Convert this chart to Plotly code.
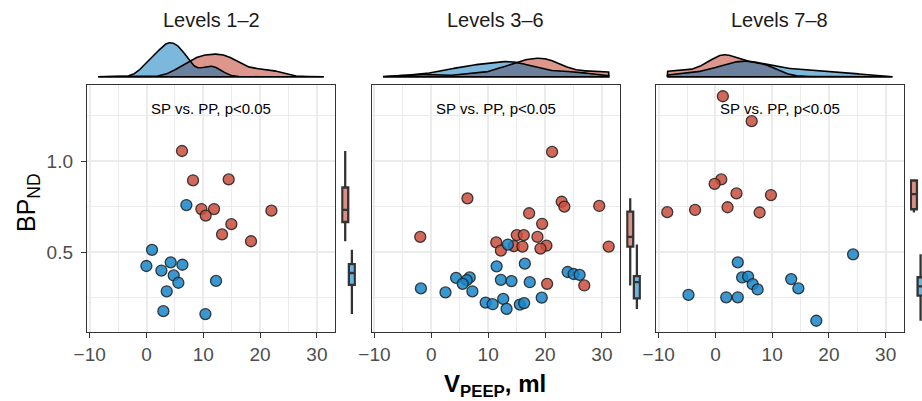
import numpy as np
import plotly.graph_objects as go

W, H = 922, 401

panel_titles = ["Levels 1–2", "Levels 3–6", "Levels 7–8"]
annot_text = "SP vs. PP, p<0.05"

# ---- data (V_PEEP in ml, BP_ND) ----
# Levels 1-2
p1_sp_x = [6.25, 8.19, 14.47, 9.66, 11.89, 10.42, 21.99, 14.94, 13.3, 18.4]
p1_sp_y = [1.056, 0.895, 0.90, 0.737, 0.737, 0.701, 0.728, 0.654, 0.598, 0.56]
p1_pp_x = [7.02, 0.97, -0.02, 4.26, 6.32, 2.62, 4.79, 5.61, 12.24, 3.56, 2.97, 10.37]
p1_pp_y = [0.759, 0.513, 0.424, 0.444, 0.431, 0.399, 0.372, 0.332, 0.342, 0.285, 0.176, 0.16]
# Levels 3-6
p2_sp_x = [21.24, 6.36, 22.93, 23.4, 29.53, 17.21, 19.49, -1.94, 15.04, 16.27,
           18.67, 11.43, 14.52, 16.03, 20.25, 19.2, 12.24, 31.2, 20.37, 26.9]
p2_sp_y = [1.051, 0.796, 0.777, 0.75, 0.754, 0.714, 0.656, 0.584, 0.594, 0.594,
           0.584, 0.554, 0.533, 0.531, 0.536, 0.52, 0.509, 0.531, 0.326, 0.317]
p2_pp_x = [13.47, 11.49, 16.45, 4.36, 6.76, 6.23, 5.53, 7.23, -1.82, 2.5, 12.24, 14.11,
           17.32, 23.98, 25.03, 26.08, 19.42, 9.56, 10.79, 12.65, 13.24, 15.57, 16.33]
p2_pp_y = [0.542, 0.422, 0.437, 0.359, 0.361, 0.346, 0.326, 0.285, 0.301, 0.279, 0.348, 0.341,
           0.335, 0.391, 0.380, 0.375, 0.25, 0.223, 0.214, 0.243, 0.188, 0.212, 0.22]
# Levels 7-8
p3_sp_x = [1.31, 6.39, 1.03, -0.14, 3.71, 9.79, 2.14, -3.59, -8.49, 7.79]
p3_sp_y = [1.357, 1.22, 0.90, 0.875, 0.823, 0.814, 0.747, 0.732, 0.72, 0.718]
p3_pp_x = [24.26, 3.94, 4.71, 5.76, 6.57, 7.44, 13.35, 14.62, -4.75, 1.91, 3.94, 17.78]
p3_pp_y = [0.488, 0.444, 0.361, 0.366, 0.324, 0.295, 0.352, 0.301, 0.265, 0.252, 0.252, 0.123]

sp_x = [p1_sp_x, p2_sp_x, p3_sp_x]
sp_y = [p1_sp_y, p2_sp_y, p3_sp_y]
pp_x = [p1_pp_x, p2_pp_x, p3_pp_x]
pp_y = [p1_pp_y, p2_pp_y, p3_pp_y]

# ---- styles ----
RED_PT = "rgba(202,78,61,0.85)"
BLUE_PT = "rgba(23,133,199,0.85)"
RED_DEN = "#DC968C"
BLUE_DEN = "#7CB8DC"
OVER_DEN = "#6B809D"
RED_BOX = "#DC9085"
BLUE_BOX = "#6BB3E0"
DARK = "#333333"
GRID = "#EBEBEB"
FONT = "Liberation Sans, Arial, sans-serif"

# ---- scales (ggplot-like 5% expansion) ----
all_x = np.concatenate([np.array(a) for a in sp_x + pp_x])
all_y = np.concatenate([np.array(a) for a in sp_y + pp_y])
xmin, xmax = all_x.min(), all_x.max()
ymin, ymax = all_y.min(), all_y.max()
xr = [xmin - 0.05 * (xmax - xmin), xmax + 0.05 * (xmax - xmin)]
yr = [ymin - 0.05 * (ymax - ymin), ymax + 0.05 * (ymax - ymin)]


def kde(vals, grid):
    v = np.asarray(vals, float)
    n = len(v)
    sd = v.std(ddof=1)
    iqr = np.percentile(v, 75) - np.percentile(v, 25)
    bw = 0.9 * min(sd, iqr / 1.34) * n ** (-0.2)
    z = (grid[:, None] - v[None, :]) / bw
    return np.exp(-0.5 * z ** 2).sum(axis=1) / (n * bw * np.sqrt(2 * np.pi))


def box_stats(vals):
    v = np.sort(np.asarray(vals, float))
    q1, med, q3 = np.percentile(v, [25, 50, 75])
    iqr = q3 - q1
    lo = v[v >= q1 - 1.5 * iqr].min()
    hi = v[v <= q3 + 1.5 * iqr].max()
    return q1, med, q3, lo, hi


grid = np.linspace(xmin, xmax, 512)
dens = [(kde(sp_x[i], grid), kde(pp_x[i], grid)) for i in range(3)]
dmax = max(max(a.max(), b.max()) for a, b in dens)

# ---- geometry in pixels ----
main_x_px = [(87, 335), (371.7, 620), (656, 903.7)]
main_y_px = (85, 332)
den_y_px = (41, 78.4)
side_gap, side_w = 6.2, 14.7
unit_px = side_w / 2.2


def px_x(a):
    return a / W


def px_y(a):
    return 1 - a / H


fig = go.Figure()
layout = dict(
    width=W, height=H, margin=dict(l=0, r=0, t=0, b=0, autoexpand=False),
    paper_bgcolor="white", plot_bgcolor="white", showlegend=False,
    boxmode="overlay", font=dict(family=FONT, color="black"),
)

annotations = []
for i in range(3):
    mx, my = 3 * i + 1, 3 * i + 1   # main
    dx_, dy_ = 3 * i + 2, 3 * i + 2  # density
    sx_, sy_ = 3 * i + 3, 3 * i + 3  # side boxes
    xl, xrp = main_x_px[i]
    dom_x = [px_x(xl), px_x(xrp)]
    dom_y = [px_y(main_y_px[1]), px_y(main_y_px[0])]

    def an(n):
        return "" if n == 1 else str(n)

    # main axes
    layout["xaxis" + an(mx)] = dict(
        domain=dom_x, anchor="y" + an(my), range=xr, tick0=0, dtick=10,
        showgrid=True, gridcolor=GRID, gridwidth=1.5,
        minor=dict(tick0=0, dtick=5, showgrid=True, gridcolor=GRID, gridwidth=0.8),
        showline=True, linecolor=DARK, linewidth=1.4, mirror=True,
        ticks="outside", ticklen=5, tickwidth=1.4, tickcolor=DARK,
        tickfont=dict(size=19, color="#4D4D4D", family=FONT), zeroline=False,
        automargin=False,
    )
    layout["yaxis" + an(my)] = dict(
        domain=dom_y, anchor="x" + an(mx), range=yr, tick0=0, dtick=0.5,
        tickformat=".1f",
        showgrid=True, gridcolor=GRID, gridwidth=1.5,
        minor=dict(tick0=0, dtick=0.25, showgrid=True, gridcolor=GRID, gridwidth=0.8),
        showline=True, linecolor=DARK, linewidth=1.4, mirror=True,
        ticks="outside" if i == 0 else "", ticklen=5, tickwidth=1.4, tickcolor=DARK,
        showticklabels=(i == 0), ticklabelstandoff=4,
        tickfont=dict(size=19, color="#4D4D4D", family=FONT), zeroline=False,
        automargin=False,
    )
    # density axes
    layout["xaxis" + an(dx_)] = dict(
        domain=dom_x, anchor="y" + an(dy_), range=xr, visible=False, automargin=False,
    )
    layout["yaxis" + an(dy_)] = dict(
        domain=[px_y(den_y_px[1]), px_y(den_y_px[0])], anchor="x" + an(dx_),
        range=[-0.05 * dmax, 1.05 * dmax], visible=False, automargin=False,
    )
    # side box axes
    s0 = xrp + side_gap
    s1 = s0 + side_w
    if s1 > W:
        srange = [0.4, 0.4 + (W - s0) / unit_px]
        s1 = W
    else:
        srange = [0.4, 2.6]
    layout["xaxis" + an(sx_)] = dict(
        domain=[px_x(s0), px_x(s1)], anchor="y" + an(sy_), range=srange, visible=False,
        automargin=False,
    )
    layout["yaxis" + an(sy_)] = dict(
        domain=dom_y, anchor="x" + an(sx_), range=yr, visible=False, automargin=False,
    )

    # density traces
    dr, db = dens[i]
    over = np.minimum(dr, db)
    for yy, col in [(dr, RED_DEN), (db, BLUE_DEN), (over, OVER_DEN)]:
        fig.add_trace(go.Scatter(
            x=grid, y=yy, mode="lines", fill="tozeroy", fillcolor=col,
            line=dict(width=0), xaxis="x" + an(dx_), yaxis="y" + an(dy_),
            hoverinfo="skip",
        ))
    for yy in (dr, db):
        fig.add_trace(go.Scatter(
            x=np.concatenate([[grid[0]], grid, [grid[-1], grid[0]]]),
            y=np.concatenate([[0], yy, [0, 0]]),
            mode="lines", line=dict(color="black", width=1.6),
            xaxis="x" + an(dx_), yaxis="y" + an(dy_), hoverinfo="skip",
        ))

    # scatter points
    for xs, ys, col, nm in [(sp_x[i], sp_y[i], RED_PT, "SP"), (pp_x[i], pp_y[i], BLUE_PT, "PP")]:
        fig.add_trace(go.Scatter(
            x=xs, y=ys, mode="markers", name=nm,
            marker=dict(size=11, color=col, line=dict(color="rgba(30,30,30,0.85)", width=1.3)),
            xaxis="x" + an(mx), yaxis="y" + an(my),
        ))

    # side boxplots
    for pos, ys, col in [(1, sp_y[i], RED_BOX), (2, pp_y[i], BLUE_BOX)]:
        q1, med, q3, lo, hi = box_stats(ys)
        fig.add_trace(go.Box(
            x=[pos], q1=[q1], median=[med], q3=[q3], lowerfence=[lo], upperfence=[hi],
            width=0.9, fillcolor=col, line=dict(color=DARK, width=2.3),
            whiskerwidth=0, boxpoints=False,
            xaxis="x" + an(sx_), yaxis="y" + an(sy_),
        ))

    # annotations
    annotations.append(dict(
        text=annot_text, xref="x" + an(mx) + " domain", yref="y" + an(my) + " domain",
        x=0.5, y=0.906, xanchor="center", yanchor="middle", showarrow=False,
        font=dict(size=15, color="black", family=FONT),
    ))
    annotations.append(dict(
        text=panel_titles[i], xref="paper", yref="paper",
        x=px_x((xl + xrp) / 2), y=px_y(20), xanchor="center", yanchor="middle",
        showarrow=False, font=dict(size=20, color="#1A1A1A", family=FONT),
    ))

annotations.append(dict(
    text="BP<sub>ND</sub>", xref="paper", yref="paper", x=px_x(28), y=px_y(203),
    xanchor="center", yanchor="middle", textangle=-90, showarrow=False,
    font=dict(size=25, color="black", family=FONT),
))
annotations.append(dict(
    text="<b>V<sub>PEEP</sub>, ml</b>", xref="paper", yref="paper",
    x=px_x(495), y=px_y(385), xanchor="center", yanchor="middle", showarrow=False,
    font=dict(size=24, color="black", family=FONT),
))
layout["annotations"] = annotations
fig.update_layout(**layout)
fig.write_html("out.html")
